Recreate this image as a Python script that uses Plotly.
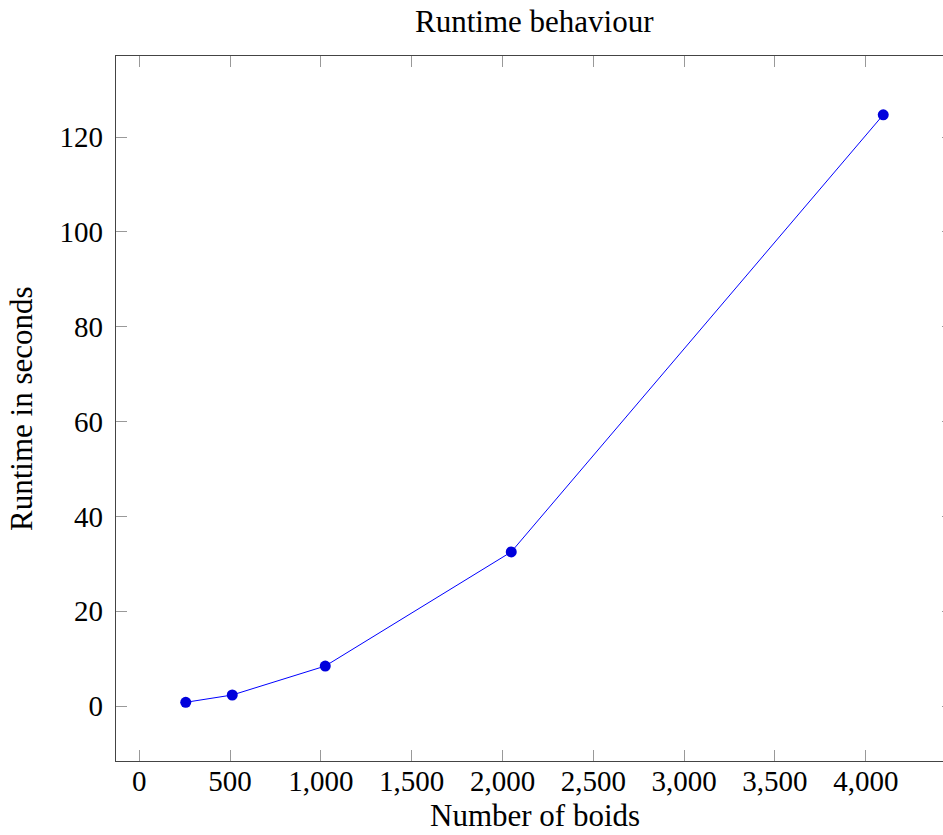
import plotly.graph_objects as go

boids = [256, 512, 1024, 2048, 4096]
runtime = [0.78, 2.32, 8.43, 32.5, 124.7]
x_ticks = [0, 500, 1000, 1500, 2000, 2500, 3000, 3500, 4000]
y_ticks = [0, 20, 40, 60, 80, 100, 120]
title_text = "Runtime behaviour"
x_title = "Number of boids"
y_title = "Runtime in seconds"

W, H = 960, 835
L, R, T, B = 116, 7, 56, 74
FONT = "Liberation Serif"
PLOT_H = H - T - B

fig = go.Figure()
fig.add_trace(go.Scatter(
    x=boids, y=runtime, mode="lines+markers",
    line=dict(color="#0000ff", width=1),
    marker=dict(color="#0000dc", size=11, line=dict(width=0)),
    showlegend=False, hoverinfo="skip",
))

axis_common = dict(
    showline=True, linecolor="#444444", linewidth=1.3, mirror="allticks",
    ticks="inside", ticklen=11, tickcolor="#999999", tickwidth=1,
    showgrid=False, zeroline=False,
    tickfont=dict(family=FONT, size=29, color="black"),
)

fig.update_layout(
    width=W, height=H,
    margin=dict(l=L, r=R, t=T, b=B, pad=0),
    paper_bgcolor="white", plot_bgcolor="white",
    xaxis=dict(range=[-128, 4480], tickvals=x_ticks, tickformat=",d",
               ticklabelstandoff=-6, **axis_common),
    yaxis=dict(range=[-11.6, 137.1], tickvals=y_ticks, ticklabelstandoff=6, **axis_common),
    font=dict(family=FONT, color="black"),
    annotations=[
        dict(text=title_text, xref="paper", yref="paper", x=0.5, y=1,
             xanchor="center", yanchor="bottom", yshift=15, showarrow=False,
             font=dict(family=FONT, size=31, color="black")),
        dict(text=x_title, xref="paper", yref="paper", x=0.5, y=-B / PLOT_H,
             xanchor="center", yanchor="bottom", yshift=1, borderpad=0, showarrow=False,
             font=dict(family=FONT, size=31, color="black")),
        dict(text=y_title, xref="paper", yref="paper", x=0, y=0.5,
             xanchor="right", yanchor="middle", xshift=-75, textangle=-90, showarrow=False,
             font=dict(family=FONT, size=31, color="black")),
    ],
)

fig.write_html("out.html", config={"displayModeBar": False},
               post_script="document.body.style.margin='0';document.body.style.overflow='hidden';")
